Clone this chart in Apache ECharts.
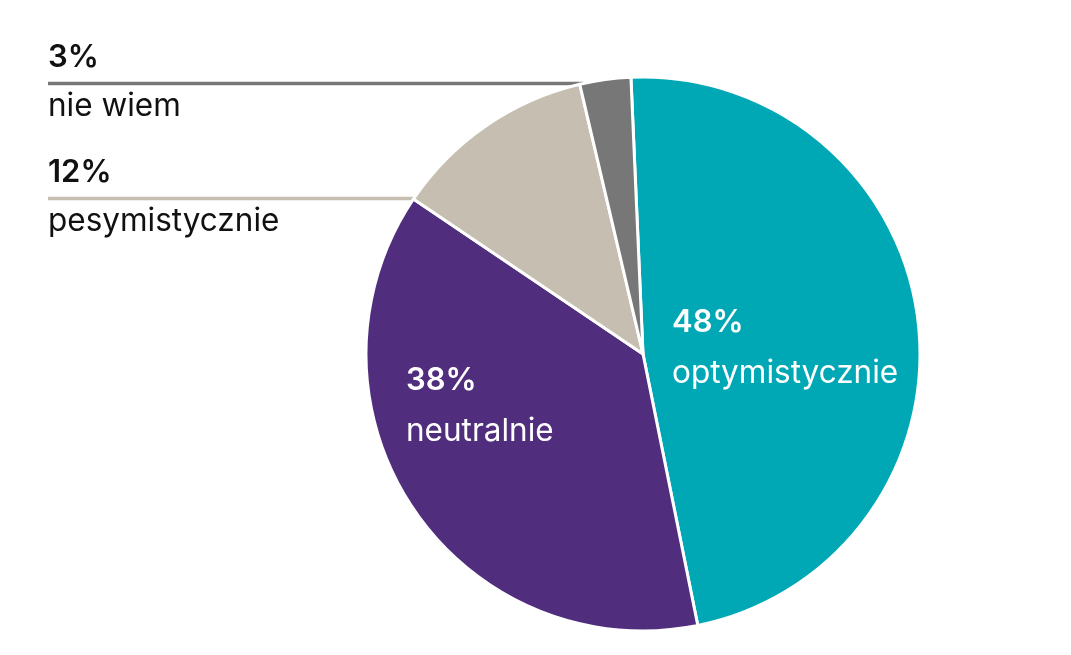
<!DOCTYPE html>
<html>
<head>
<meta charset="utf-8">
<script src="https://cdn.jsdelivr.net/npm/echarts@6/dist/echarts.min.js"></script>
<style>
html,body{margin:0;padding:0;background:#fff;}
#c{width:1071px;height:655px;}
</style>
</head>
<body>
<div id="c"></div>
<script>
const categories = ['optymistycznie', 'neutralnie', 'pesymistycznie', 'nie wiem'];
const values = [48, 38, 12, 3];
const colors = ['#00a8b5', '#502d7d', '#c6beb0', '#777777'];
const insideLabel = [true, true, false, false];

const CX = 643, CY = 354, R = 277;
const FONT = 'Inter';

const chart = echarts.init(document.getElementById('c'), null, {renderer: 'canvas'});

const data = categories.map((name, i) => ({
  name: name,
  value: values[i],
  itemStyle: {color: colors[i]},
  label: insideLabel[i] ? {
    position: 'inside',
    rich: {
      p: {fontFamily: FONT, fontWeight: 600, fontSize: 31, color: '#fff', lineHeight: 51, align: 'left'},
      n: {fontFamily: FONT, fontSize: 31.5, color: '#fff', lineHeight: 51, align: 'left'}
    }
  } : {
    position: 'outside',
    rich: {
      p: {fontFamily: FONT, fontWeight: 600, fontSize: 31, color: '#111', lineHeight: 49, align: 'left'},
      n: {fontFamily: FONT, fontSize: 31.5, color: '#111', lineHeight: 49, align: 'left'}
    }
  },
  labelLine: {show: !insideLabel[i], lineStyle: {color: colors[i], width: 3.5}}
}));

function edgeX(y) {
  return CX - Math.sqrt(R * R - (y - CY) * (y - CY));
}

chart.setOption({
  animation: false,
  series: [{
    type: 'pie',
    center: [CX, CY],
    radius: R,
    startAngle: 92.5,
    clockwise: true,
    avoidLabelOverlap: false,
    itemStyle: {borderColor: '#fff', borderWidth: 3},
    label: {
      show: true,
      formatter: p => '{p|' + p.value + '%}\n{n|' + p.name + '}'
    },
    labelLine: {show: true, length: 10, length2: 10},
    labelLayout: function (params) {
      const i = params.dataIndex;
      if (i === 0) {
        return {x: CX + 29, y: CY - 6, align: 'left', verticalAlign: 'middle'};
      }
      if (i === 1) {
        return {x: CX - 237, y: CY + 52, align: 'left', verticalAlign: 'middle'};
      }
      const lineY = i === 3 ? 83.5 : 198.5;
      const ex = edgeX(lineY);
      return {
        x: 48, y: lineY - 1, align: 'left', verticalAlign: 'middle',
        labelLinePoints: [[ex, lineY], [(ex + 48) / 2, lineY], [48, lineY]]
      };
    },
    data: data
  }]
});
</script>
</body>
</html>
